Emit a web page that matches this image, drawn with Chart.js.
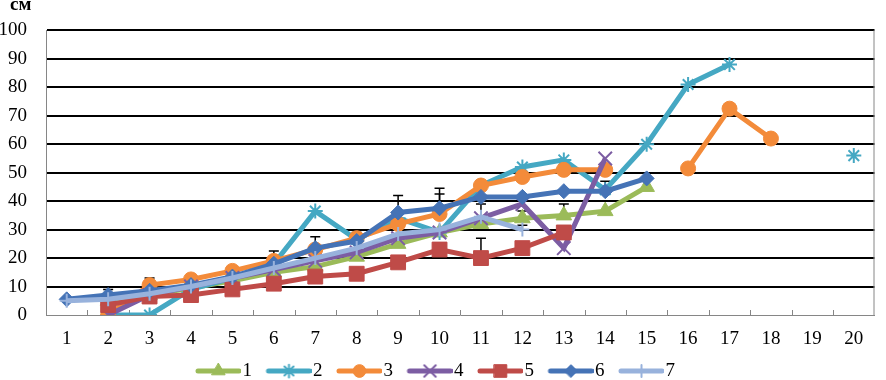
<!DOCTYPE html>
<html>
<head>
<meta charset="utf-8">
<script src="https://cdn.jsdelivr.net/npm/chart.js@4/dist/chart.umd.min.js"></script>
<style>
  html, body { margin: 0; padding: 0; background: #fff; }
  #wrap { width: 886px; height: 380px; position: relative; }
</style>
</head>
<body>
<div id="wrap"><canvas id="chart"></canvas></div>
<script>
// categories (measurement number) and the y ticks
const categories = ['1', '2', '3', '4', '5', '6', '7', '8', '9', '10',
  '11', '12', '13', '14', '15', '16', '17', '18', '19', '20'];
const yMin = 0;
const yMax = 100;
const yStep = 10;
const seriesNames = ['1', '2', '3', '4', '5', '6', '7'];

// values, cm
const s1 = [null, 5, 7, 9.5, 12, 15, 17, 20.5, 25, 29, 32, 34, 35, 36.5, 45, null, null, null, null, null];
const s2 = [null, 0, 0, 9, 13, 18, 36.5, 26.5, 34, 29, 45.5, 52, 54.5, 44, 60, 81, 88, null, null, 56];
const s3 = [null, 0, 10.5, 12.5, 15.5, 19, 23, 27, 32, 35.5, 45.5, 48.5, 51, 51, null, 51.5, 72.5, 62, null, null];
const s4 = [null, 0, 7, 10, 13, 16, 19, 22, 27, 29, 34, 39, 23.5, 55, null, null, null, null, null, null];
const s5 = [null, 3.5, 6.5, 7, 9, 11, 13.5, 14.5, 18.5, 23, 20, 23.5, 29, null, null, null, null, null, null, null];
const s6 = [5.5, 7, 8.5, 10.5, 13.5, 18, 23.5, 26, 36, 37.5, 41.5, 41.5, 43.5, 43.5, 48, null, null, null, null, null];
const s7 = [5, 5.5, 7.5, 10, 13, 16.5, 20, 23.5, 28.5, 30, 34.5, 30, null, null, null, null, null, null, null, null];

// upper error bars (only where the picture shows a cap)
const e1 = [null, null, null, null, null, null, null, null, null, null, 7, 2.5, 4, null, null, null, null, null, null, null];
const e3 = [null, null, 2.5, null, null, null, null, 2, null, 7, 1.5, null, null, null, null, null, null, null, null, null];
const e5 = [null, null, null, null, null, null, null, null, null, null, 7, null, null, null, null, null, null, null, null, null];
const e6 = [null, 2, null, null, null, 4.5, 4, null, 6, 7, null, null, null, 3.5, null, null, null, null, null, null];
const e7 = [null, null, null, null, null, null, null, null, null, null, null, 1.5, null, null, null, null, null, null, null, null];

const values = [s1, s2, s3, s4, s5, s6, s7];
const errors = [e1, null, e3, null, e5, e6, e7];
const colors = ['#9BBB59', '#45A8C3', '#F38B3A', '#7C5DA3', '#BF4B48', '#4573B6', '#98B2DC'];
const styles = ['triangle', 'star', 'circle', 'crossRot', 'rect', 'rectRot', 'cross'];
const radii = [9, 7.5, 7.5, 9.5, 10.5, 7.5, 7];
const markerBorder = [1, 2, 1, 2, 1, 1, 2];

const serif = 'Liberation Serif, Times New Roman, serif';

// legend swatch: line with the marker in the middle
const makeSwatch = (i) => {
  const c = document.createElement('canvas');
  c.width = 52;
  c.height = 20;
  const ctx = c.getContext('2d');
  ctx.strokeStyle = colors[i];
  ctx.lineWidth = 5;
  ctx.lineCap = 'round';
  ctx.beginPath();
  ctx.moveTo(9, 10);
  ctx.lineTo(50, 10);
  ctx.stroke();
  ctx.fillStyle = colors[i];
  ctx.lineWidth = markerBorder[i];
  Chart.helpers.drawPoint(ctx, {
    pointStyle: styles[i],
    radius: radii[i] * 0.85,
    rotation: 0,
    borderWidth: markerBorder[i],
  }, 29.5, 10);
  return c;
};
const swatches = seriesNames.map((n, i) => makeSwatch(i));

const tweaks = {
  id: 'tweaks',
  afterLayout(chart) {
    const lg = chart.legend;
    lg.top -= 3.5;
    lg.bottom -= 3.5;
    lg.left -= 6.5;
    lg.right -= 6.5;
    chart.titleBlock.left = 10;
  },
  beforeDatasetsDraw(chart) {
    const { ctx, chartArea } = chart;
    const x = chart.scales.x;
    const y = chart.scales.y;
    ctx.save();
    // small inside ticks between categories
    ctx.strokeStyle = '#868686';
    ctx.lineWidth = 1;
    const step = (chartArea.right - chartArea.left) / categories.length;
    for (let i = 1; i < categories.length; i++) {
      const px = Math.round(chartArea.left + i * step) + 0.5;
      ctx.beginPath();
      ctx.moveTo(px, chartArea.bottom - 5);
      ctx.lineTo(px, chartArea.bottom);
      ctx.stroke();
    }
    // right border of the plot
    ctx.beginPath();
    ctx.moveTo(chartArea.right - 0.5, chartArea.top);
    ctx.lineTo(chartArea.right - 0.5, chartArea.bottom);
    ctx.stroke();
    // error bars
    ctx.strokeStyle = '#000';
    ctx.lineWidth = 1.5;
    errors.forEach((err, si) => {
      if (!err) return;
      err.forEach((e, i) => {
        const v = values[si][i];
        if (e == null || v == null) return;
        const px = x.getPixelForValue(i);
        const y0 = y.getPixelForValue(v);
        const y1 = y.getPixelForValue(v + e);
        ctx.beginPath();
        ctx.moveTo(px, y0);
        ctx.lineTo(px, y1);
        ctx.moveTo(px - 5, y1);
        ctx.lineTo(px + 5, y1);
        ctx.stroke();
      });
    });
    ctx.restore();
  },
};

const datasets = seriesNames.map((name, i) => ({
  label: name,
  data: values[i],
  borderColor: colors[i],
  backgroundColor: colors[i],
  borderWidth: 5,
  pointStyle: styles[i],
  pointRadius: radii[i],
  pointHoverRadius: radii[i],
  pointBorderWidth: markerBorder[i],
  pointBackgroundColor: colors[i],
  pointBorderColor: colors[i],
  tension: 0,
  spanGaps: false,
  fill: false,
  order: seriesNames.length - i,
}));

new Chart(document.getElementById('chart'), {
  type: 'line',
  data: { labels: categories, datasets },
  plugins: [tweaks],
  options: {
    responsive: true,
    maintainAspectRatio: false,
    animation: false,
    devicePixelRatio: 1,
    layout: { padding: { left: 0, right: 1, top: 0, bottom: -14 } },
    scales: {
      x: {
        offset: true,
        grid: { display: true, drawOnChartArea: false, drawTicks: false },
        border: { color: '#868686', width: 1 },
        ticks: { color: '#000', font: { family: serif, size: 19 }, padding: 13, maxRotation: 0, autoSkip: false },
        afterFit: (s) => { s.height = 34.5; },
      },
      y: {
        min: yMin,
        max: yMax,
        grid: {
          color: (c) => (c.tick && c.tick.value === 0 ? 'rgba(0,0,0,0)' : '#000'),
          lineWidth: 2,
          drawTicks: false,
        },
        border: { color: '#868686', width: 1 },
        ticks: { stepSize: yStep, color: '#000', font: { family: serif, size: 19 }, padding: 19 },
        afterFit: (s) => { s.width = 46; },
      },
    },
    plugins: {
      title: {
        display: true,
        text: 'см',
        align: 'start',
        color: '#000',
        font: { family: serif, size: 19, weight: 'bold' },
        padding: { top: -8, bottom: 14.2 },
      },
      legend: {
        position: 'bottom',
        labels: {
          color: '#000',
          font: { family: serif, size: 19 },
          usePointStyle: true,
          pointStyleWidth: 36,
          padding: 15.5,
          sort: (a, b) => a.datasetIndex - b.datasetIndex,
          generateLabels: (chart) =>
            Chart.defaults.plugins.legend.labels.generateLabels(chart).map((l) => ({
              ...l,
              pointStyle: swatches[l.datasetIndex],
            })),
        },
      },
      tooltip: { enabled: false },
    },
  },
});
</script>
</body>
</html>
